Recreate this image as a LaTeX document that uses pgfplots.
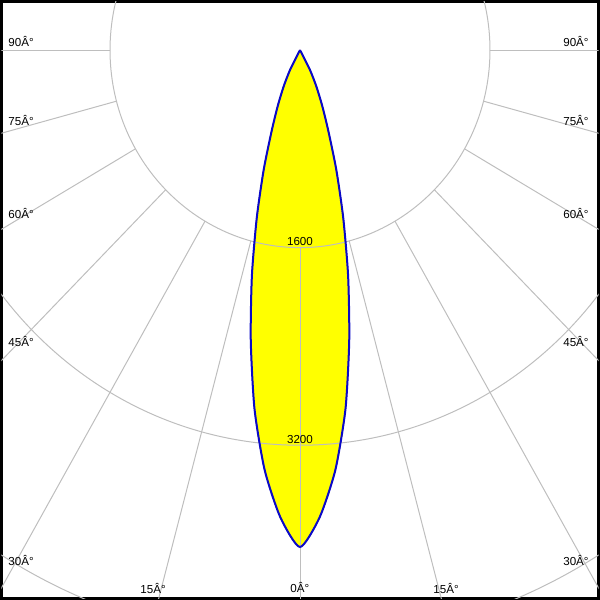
\documentclass[border=0pt]{standalone}
\usepackage{fontspec}
\setmainfont{Liberation Sans}
\usepackage{pgfplots}
\pgfplotsset{compat=1.18}
\usepackage{pgfplotstable}
\definecolor{gridgray}{RGB}{190,190,190}
\definecolor{curveblue}{RGB}{10,10,200}
\definecolor{curvered}{RGB}{200,0,40}
\definecolor{lumyellow}{RGB}{255,255,0}
\pgfplotstableread{
a I
-30 0
-27.5 183
-25 327
-22.5 489
-20 699
-17.5 1017
-15 1407
-12.5 1872
-10 2388
-7.5 2934
-5 3414
-2.5 3788
0 4024
2.5 3788
5 3414
7.5 2934
10 2388
12.5 1872
15 1407
17.5 1017
20 699
22.5 489
25 327
27.5 183
30 0
}\lum
\begin{document}
\begin{tikzpicture}
\begin{axis}[
  width=298.5pt, height=298.5pt, scale only axis,
  xmin=-2514, xmax=2514, ymin=-4441, ymax=393,
  axis line style={line width=1.5pt, black},
  xtick=\empty, ytick=\empty,
  clip=true,
]
\addplot[fill=lumyellow, draw=none, smooth, tension=0.4] table[x expr={\thisrow{I}*sin(\thisrow{a})}, y expr={-\thisrow{I}*cos(\thisrow{a})}] {\lum} -- cycle;
\draw[gridgray, line width=0.5pt] (axis cs:0,0) ellipse [x radius=1600, y radius=1600];
\draw[gridgray, line width=0.5pt] (axis cs:0,0) ellipse [x radius=3200, y radius=3200];
\draw[gridgray, line width=0.5pt] (axis cs:0,0) ellipse [x radius=4800, y radius=4800];
\pgfplotsinvokeforeach{-90,-75,-60,-45,-30,-15,0,15,30,45,60,75,90}{
  \draw[gridgray, line width=0.5pt] (axis cs:{1600*sin(#1)},{-1600*cos(#1)}) -- (axis cs:{9000*sin(#1)},{-9000*cos(#1)});
}
\addplot[curvered, line width=0.5pt, smooth, tension=0.4] table[x expr={\thisrow{I}*sin(\thisrow{a})}, y expr={-\thisrow{I}*cos(\thisrow{a})}] {\lum};
\addplot[curveblue, line width=1pt, smooth, tension=0.4] table[x expr={\thisrow{I}*sin(\thisrow{a})}, y expr={-\thisrow{I}*cos(\thisrow{a})}] {\lum};
\begin{scope}[every node/.style={inner sep=0pt, font=\fontsize{5.8}{6.5}\selectfont}]
\node[anchor=base] at (axis cs:0,-1579) {1600};
\node[anchor=base] at (axis cs:0,-3182) {3200};
\node[anchor=base west] at (axis cs:-2459,32) {90Â°};
\node[anchor=base west] at (axis cs:-2459,-615) {75Â°};
\node[anchor=base west] at (axis cs:-2459,-1368) {60Â°};
\node[anchor=base west] at (axis cs:-2459,-2402) {45Â°};
\node[anchor=base west] at (axis cs:-2459,-4170) {30Â°};
\node[anchor=base east] at (axis cs:2434,32) {90Â°};
\node[anchor=base east] at (axis cs:2434,-615) {75Â°};
\node[anchor=base east] at (axis cs:2434,-1368) {60Â°};
\node[anchor=base east] at (axis cs:2434,-2402) {45Â°};
\node[anchor=base east] at (axis cs:2434,-4170) {30Â°};
\node[anchor=base west] at (axis cs:-1347,-4397) {15Â°};
\node[anchor=base west] at (axis cs:-84,-4389) {0Â°};
\node[anchor=base west] at (axis cs:1120,-4397) {15Â°};
\end{scope}
\end{axis}
\end{tikzpicture}
\end{document}
